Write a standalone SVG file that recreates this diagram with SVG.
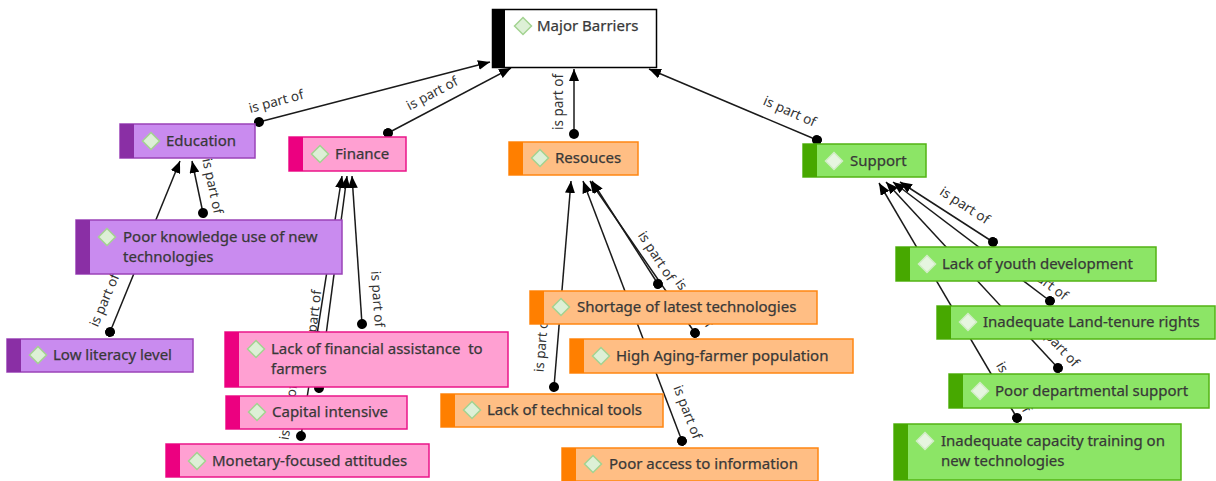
<svg xmlns="http://www.w3.org/2000/svg" xmlns:xlink="http://www.w3.org/1999/xlink" width="1216" height="481" viewBox="0 0 1216 481">
  <defs>
    <style>
      .node text { font-family: "Noto Sans", "Liberation Sans", sans-serif; font-size: 15px; fill: #383838; stroke: #383838; stroke-width: 0.25px; }
      .lbl { font-family: "Noto Sans", "Liberation Sans", sans-serif; font-size: 13.5px; fill: #333; text-anchor: middle; dominant-baseline: central; }
      .edge { stroke: #1a1a1a; stroke-width: 1.5; fill: none; marker-start: url(#dot); marker-end: url(#arrow); }
      .root rect.box { fill: #fff; stroke: #000; stroke-width: 1.5; }
      .root rect.bar { fill: #000; }
      .edu rect.box { fill: #c98bef; stroke: #9a43b8; stroke-width: 1.5; }
      .edu rect.bar { fill: #8a2fa5; }
      .fin rect.box { fill: #ffa0d2; stroke: #ea1689; stroke-width: 1.5; }
      .fin rect.bar { fill: #ec0080; }
      .res rect.box { fill: #ffbe84; stroke: #ff8612; stroke-width: 1.5; }
      .res rect.bar { fill: #ff7f00; }
      .sup rect.box { fill: #8ce566; stroke: #53b314; stroke-width: 1.5; }
      .sup rect.bar { fill: #47a800; }
      .dl { fill: #ddf0d6; stroke: #a3d391; stroke-width: 1.5; }
      .dg { fill: #e6f5e0; stroke: #d2ecc7; stroke-width: 1.5; }
    </style>
    <path id="dia" d="M-8.5 0 L0 -8.5 L8.5 0 L0 8.5 Z"/>
    <marker id="arrow" viewBox="0 0 12 10" refX="12" refY="5" markerWidth="12" markerHeight="10" markerUnits="userSpaceOnUse" orient="auto">
      <path d="M0 0 L12 5 L0 10 Z" fill="#000"/>
    </marker>
    <marker id="dot" viewBox="0 0 10 10" refX="5" refY="5" markerWidth="10" markerHeight="10" markerUnits="userSpaceOnUse" orient="auto">
      <circle cx="5" cy="5" r="5" fill="#000"/>
    </marker>
  </defs>

  <!-- connectors: each runs from the child (dot) to the parent (arrow) -->
  <g id="connectors">
    <line class="edge" x1="259" y1="122" x2="490" y2="62"/>
    <text class="lbl" transform="translate(276,101) rotate(-15)">is part of</text>
    <line class="edge" x1="388" y1="133" x2="511" y2="68"/>
    <text class="lbl" transform="translate(432,93) rotate(-28)">is part of</text>
    <line class="edge" x1="574" y1="134" x2="574" y2="69"/>
    <text class="lbl" transform="translate(558,102) rotate(-90)">is part of</text>
    <line class="edge" x1="817" y1="140" x2="649" y2="69"/>
    <text class="lbl" transform="translate(790,111) rotate(24)">is part of</text>

    <line class="edge" x1="203" y1="213" x2="192" y2="161"/>
    <text class="lbl" transform="translate(213,186) rotate(78)">is part of</text>
    <line class="edge" x1="110" y1="332" x2="180" y2="161"/>
    <text class="lbl" transform="translate(104,300) rotate(-67)">is part of</text>

    <line class="edge" x1="362" y1="324" x2="352" y2="176"/>
    <text class="lbl" transform="translate(378,299) rotate(86)">is part of</text>
    <line class="edge" x1="319" y1="388" x2="347" y2="176"/>
    <text class="lbl" transform="translate(313,318) rotate(-83)">is part of</text>
    <line class="edge" x1="301" y1="436" x2="342" y2="176"/>
    <text class="lbl" transform="translate(288,412) rotate(-81)">is part of</text>

    <line class="edge" x1="554" y1="387" x2="571" y2="181"/>
    <text class="lbl" transform="translate(541,344) rotate(-85)">is part of</text>
    <line class="edge" x1="682" y1="441" x2="583" y2="181"/>
    <text class="lbl" transform="translate(688,412) rotate(69)">is part of</text>
    <line class="edge" x1="695" y1="333" x2="590" y2="181"/>
    <text class="lbl" transform="translate(695,303) rotate(55)">is part of</text>
    <line class="edge" x1="658" y1="284" x2="592" y2="181"/>
    <text class="lbl" transform="translate(657,256) rotate(57)">is part of</text>

    <line class="edge" x1="993" y1="242" x2="900" y2="182"/>
    <text class="lbl" transform="translate(965,205) rotate(33)">is part of</text>
    <line class="edge" x1="1050" y1="301" x2="893" y2="182"/>
    <text class="lbl" transform="translate(1044,280) rotate(37)">is part of</text>
    <line class="edge" x1="1058" y1="368" x2="886" y2="182"/>
    <text class="lbl" transform="translate(1058,344) rotate(47)">is part of</text>
    <line class="edge" x1="1017" y1="418" x2="879" y2="183"/>
    <text class="lbl" transform="translate(1014,387) rotate(60)">is part of</text>
  </g>

  <!-- root -->
  <g id="major-barriers" class="node root">
    <rect class="box" x="492.5" y="9.5" width="164" height="58"/>
    <rect class="bar" x="492" y="9" width="13" height="59"/>
    <use href="#dia" xlink:href="#dia" x="523" y="26" class="dl"/>
    <text x="537" y="31">Major Barriers</text>
  </g>

  <!-- Education -->
  <g id="education" class="node edu">
    <rect class="box" x="120" y="124" width="135" height="34"/>
    <rect class="bar" x="120" y="124" width="14" height="34"/>
    <use href="#dia" xlink:href="#dia" x="151" y="141" class="dl"/>
    <text x="166" y="146">Education</text>
  </g>
  <g id="poor-knowledge" class="node edu">
    <rect class="box" x="76" y="220" width="266" height="54"/>
    <rect class="bar" x="76" y="220" width="14" height="54"/>
    <use href="#dia" xlink:href="#dia" x="107" y="237" class="dl"/>
    <text x="123" y="242">Poor knowledge use of new</text>
    <text x="123" y="262">technologies</text>
  </g>
  <g id="low-literacy" class="node edu">
    <rect class="box" x="7" y="339" width="186" height="33"/>
    <rect class="bar" x="7" y="339" width="14" height="33"/>
    <use href="#dia" xlink:href="#dia" x="38" y="355" class="dl"/>
    <text x="53" y="360">Low literacy level</text>
  </g>

  <!-- Finance -->
  <g id="finance" class="node fin">
    <rect class="box" x="289" y="137" width="117" height="34"/>
    <rect class="bar" x="289" y="137" width="14" height="34"/>
    <use href="#dia" xlink:href="#dia" x="320" y="154" class="dl"/>
    <text x="335" y="159">Finance</text>
  </g>
  <g id="lack-financial" class="node fin">
    <rect class="box" x="225" y="332" width="283" height="55"/>
    <rect class="bar" x="225" y="332" width="14" height="55"/>
    <use href="#dia" xlink:href="#dia" x="256" y="349" class="dl"/>
    <text x="271" y="354" xml:space="preserve">Lack of financial assistance  to</text>
    <text x="271" y="374">farmers</text>
  </g>
  <g id="capital-intensive" class="node fin">
    <rect class="box" x="226" y="396" width="181" height="33"/>
    <rect class="bar" x="226" y="396" width="14" height="33"/>
    <use href="#dia" xlink:href="#dia" x="257" y="412" class="dl"/>
    <text x="272" y="417">Capital intensive</text>
  </g>
  <g id="monetary" class="node fin">
    <rect class="box" x="166" y="444" width="263" height="33"/>
    <rect class="bar" x="166" y="444" width="14" height="33"/>
    <use href="#dia" xlink:href="#dia" x="197" y="461" class="dl"/>
    <text x="212" y="466">Monetary-focused attitudes</text>
  </g>

  <!-- Resources -->
  <g id="resouces" class="node res">
    <rect class="box" x="509" y="142" width="129" height="33"/>
    <rect class="bar" x="509" y="142" width="14" height="33"/>
    <use href="#dia" xlink:href="#dia" x="540" y="158" class="dl"/>
    <text x="555" y="163">Resouces</text>
  </g>
  <g id="shortage" class="node res">
    <rect class="box" x="530" y="291" width="287" height="33"/>
    <rect class="bar" x="530" y="291" width="14" height="33"/>
    <use href="#dia" xlink:href="#dia" x="561" y="307" class="dl"/>
    <text x="577" y="312">Shortage of latest technologies</text>
  </g>
  <g id="aging" class="node res">
    <rect class="box" x="570" y="339" width="283" height="34"/>
    <rect class="bar" x="570" y="339" width="14" height="34"/>
    <use href="#dia" xlink:href="#dia" x="601" y="356" class="dl"/>
    <text x="616" y="361">High Aging-farmer population</text>
  </g>
  <g id="technical-tools" class="node res">
    <rect class="box" x="441" y="394" width="222" height="33"/>
    <rect class="bar" x="441" y="394" width="14" height="33"/>
    <use href="#dia" xlink:href="#dia" x="472" y="410" class="dl"/>
    <text x="487" y="415">Lack of technical tools</text>
  </g>
  <g id="poor-access" class="node res">
    <rect class="box" x="562" y="448" width="256" height="33"/>
    <rect class="bar" x="562" y="448" width="14" height="33"/>
    <use href="#dia" xlink:href="#dia" x="593" y="464" class="dl"/>
    <text x="609" y="469">Poor access to information</text>
  </g>

  <!-- Support -->
  <g id="support" class="node sup">
    <rect class="box" x="803" y="144" width="123" height="33"/>
    <rect class="bar" x="803" y="144" width="14" height="33"/>
    <use href="#dia" xlink:href="#dia" x="834" y="161" class="dg"/>
    <text x="850" y="166">Support</text>
  </g>
  <g id="youth" class="node sup">
    <rect class="box" x="896" y="247" width="260" height="34"/>
    <rect class="bar" x="896" y="247" width="14" height="34"/>
    <use href="#dia" xlink:href="#dia" x="927" y="264" class="dg"/>
    <text x="942" y="269">Lack of youth development</text>
  </g>
  <g id="land-tenure" class="node sup">
    <rect class="box" x="937" y="306" width="278" height="33"/>
    <rect class="bar" x="937" y="306" width="14" height="33"/>
    <use href="#dia" xlink:href="#dia" x="968" y="322" class="dg"/>
    <text x="983" y="327">Inadequate Land-tenure rights</text>
  </g>
  <g id="departmental" class="node sup">
    <rect class="box" x="949" y="374" width="260" height="34"/>
    <rect class="bar" x="949" y="374" width="14" height="34"/>
    <use href="#dia" xlink:href="#dia" x="980" y="391" class="dg"/>
    <text x="995" y="396">Poor departmental support</text>
  </g>
  <g id="capacity" class="node sup">
    <rect class="box" x="894" y="424" width="287" height="56"/>
    <rect class="bar" x="894" y="424" width="14" height="56"/>
    <use href="#dia" xlink:href="#dia" x="925" y="441" class="dg"/>
    <text x="941" y="446">Inadequate capacity training on</text>
    <text x="941" y="466">new technologies</text>
  </g>
</svg>
